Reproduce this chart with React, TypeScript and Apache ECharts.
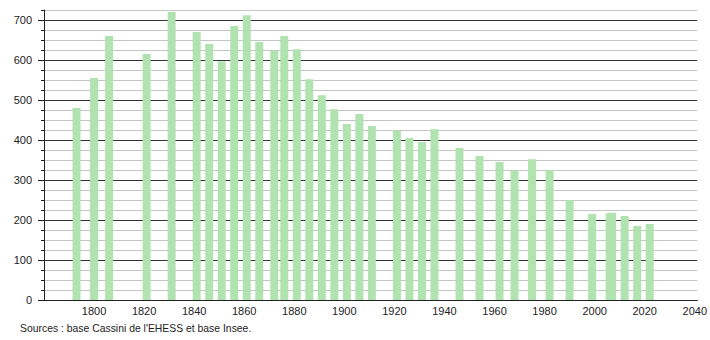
import React, { useEffect, useRef } from "react";
import * as echarts from "echarts";

const years = [1793, 1800, 1806, 1821, 1831, 1841, 1846, 1851, 1856, 1861, 1866, 1872, 1876, 1881, 1886, 1891, 1896, 1901, 1906, 1911, 1921, 1926, 1931, 1936, 1946, 1954, 1962, 1968, 1975, 1982, 1990, 1999, 2006, 2007, 2012, 2017, 2022];
const population = [480, 555, 660, 615, 720, 670, 640, 597, 685, 712, 645, 624, 660, 627, 552, 512, 477, 440, 465, 435, 424, 405, 395, 427, 380, 360, 345, 324, 352, 325, 250, 215, 217, 218, 210, 185, 190];
const yMajorTicks = [0, 100, 200, 300, 400, 500, 600, 700];
const xTickLabels = [1800, 1820, 1840, 1860, 1880, 1900, 1920, 1940, 1960, 1980, 2000, 2020, 2040];
const sourceText = "Sources : base Cassini de l'EHESS et base Insee.";

const FONT = "'Liberation Sans', Arial, sans-serif";

export default function App() {
  const ref = useRef<HTMLDivElement>(null);
  useEffect(() => {
    document.body.style.margin = "0";
    if (!ref.current) return;
    const chart = echarts.init(ref.current, null, { renderer: "svg" });
    const data = years.map((y, i) => [y, population[i]]);
    chart.setOption({
      animation: false,
      backgroundColor: "#ffffff",
      grid: { left: 44, right: 10, top: 10, bottom: 40, containLabel: false },
      xAxis: {
        type: "value",
        min: 1780,
        max: 2041,
        interval: 20,
        axisLine: { show: true, lineStyle: { color: "#222", width: 1 } },
        axisTick: { show: false },
        splitLine: { show: false },
        axisLabel: {
          margin: 5,
          fontFamily: FONT,
          fontSize: 11,
          color: "#222",
          formatter: (v: number) => (xTickLabels.includes(Math.round(v)) && Math.abs(v - Math.round(v)) < 1e-6 ? String(Math.round(v)) : ""),
        },
      },
      yAxis: [
        {
          type: "value",
          min: 0,
          max: 725,
          interval: 25,
          position: "left",
          axisLine: { show: true, onZero: false, lineStyle: { color: "#222", width: 1 } },
          axisTick: { show: true, length: 3, lineStyle: { color: "#222" } },
          axisLabel: { show: false },
          splitLine: {
            show: true,
            lineStyle: { color: ["#333333", "#c4c4c4", "#c4c4c4", "#c4c4c4"], width: 1 },
          },
        },
        {
          type: "value",
          min: 0,
          max: 725,
          interval: 100,
          position: "left",
          axisLine: { show: false },
          axisTick: { show: true, length: 6, lineStyle: { color: "#222" }, customValues: yMajorTicks },
          axisLabel: {
            margin: 12,
            fontFamily: FONT,
            fontSize: 11,
            color: "#222",
            customValues: yMajorTicks,
            formatter: (v: number) => (yMajorTicks.includes(v) ? String(v) : ""),
          },
          splitLine: { show: false },
        },
      ],
      series: [
        {
          type: "bar",
          xAxisIndex: 0,
          yAxisIndex: 0,
          data,
          barWidth: 8,
          itemStyle: { color: "#b1e3b1" },
          silent: true,
        },
      ],
      graphic: [
        {
          type: "text",
          left: 20,
          top: 323,
          style: { text: sourceText, font: `10.4px ${FONT}`, fill: "#222" },
        },
      ],
    });
    return () => chart.dispose();
  }, []);
  return <div ref={ref} style={{ width: 710, height: 340 }} />;
}
